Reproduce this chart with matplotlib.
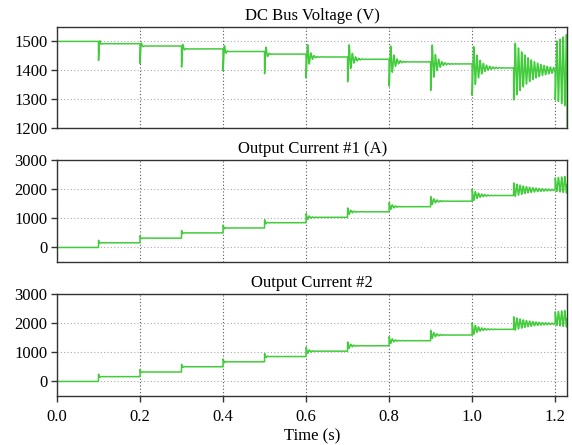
import numpy as np
import matplotlib
matplotlib.use('Agg')
import matplotlib.pyplot as plt

plt.rcParams['font.family'] = ['Liberation Serif', 'DejaVu Serif']

# Data
# load steps every 0.1 s, simulation ends at ~1.229 s
step_times = [0.0, 0.1, 0.2, 0.3, 0.4, 0.5, 0.6, 0.7, 0.8, 0.9, 1.0, 1.1, 1.2]
t_end = 1.229
ring_freq = 130.0  # Hz, ringing frequency of the transients

# DC bus voltage: settled level after each step, first swing size, decay time
vbus_levels = [1500, 1492, 1484, 1474, 1465, 1456, 1446, 1438, 1429, 1422, 1408, 1400, 1398]
vbus_swing = [0, 58, 60, 63, 66, 68, 72, 78, 84, 92, 95, 103, 100]
# negative decay -> growing oscillation (unstable after 1.2 s)
decay_tau = [1, 0.002, 0.002, 0.0025, 0.003, 0.0035, 0.007, 0.0085, 0.009, 0.011, 0.015, 0.04, -0.12]
vbus_final = 1205

# Output currents (#1 and #2 look the same)
cur1_levels = [0, 160, 320, 500, 670, 850, 1035, 1225, 1400, 1590, 1785, 1975, 2160]
cur1_swing = [0, 85, 85, 80, 90, 100, 125, 130, 140, 160, 220, 240, 230]
cur2_levels = [0, 165, 325, 505, 675, 855, 1040, 1225, 1400, 1595, 1790, 1980, 2160]
cur2_swing = [0, 85, 85, 80, 90, 100, 125, 130, 140, 160, 220, 240, 230]

titles = ['DC Bus Voltage (V)', 'Output Current #1 (A)', 'Output Current #2']
x_ticks = [0.0, 0.2, 0.4, 0.6, 0.8, 1.0, 1.2]
line_color = '#42cc3c'


def waveform(t, levels, swing, sign):
    y = np.zeros_like(t)
    for k, tk in enumerate(step_times):
        t_next = step_times[k + 1] if k + 1 < len(step_times) else t_end + 1
        m = (t >= tk) & (t < t_next)
        dt = t[m] - tk
        ring = swing[k] * np.exp(-dt / decay_tau[k]) * np.cos(2 * np.pi * ring_freq * dt)
        y[m] = levels[k] + sign * ring
    return y


t = np.arange(0, t_end, 0.0002)
vbus = waveform(t, vbus_levels, vbus_swing, -1)
vbus[-1] = vbus_final
cur1 = waveform(t, cur1_levels, cur1_swing, 1)
cur2 = waveform(t, cur2_levels, cur2_swing, 1)

fig = plt.figure(figsize=(5.72, 4.45), dpi=100)
positions = [[0.0997, 0.7124, 0.892, 0.227],
             [0.0997, 0.4112, 0.892, 0.229],
             [0.0997, 0.1101, 0.892, 0.229]]
series = [vbus, cur1, cur2]
ylims = [(1200, 1550), (-500, 3000), (-500, 3000)]
yticks = [[1200, 1300, 1400, 1500], [0, 1000, 2000, 3000], [0, 1000, 2000, 3000]]

for i in range(3):
    ax = fig.add_axes(positions[i])
    ax.plot(t, series[i], color=line_color, lw=1.1)
    ax.set_xlim(0, t_end)
    ax.set_ylim(*ylims[i])
    ax.set_yticks(yticks[i])
    ax.set_xticks(x_ticks)
    ax.set_title(titles[i], fontsize=12, pad=5)
    ax.xaxis.grid(True, ls=(0, (1, 2)), color='#555555', lw=0.8)
    ax.yaxis.grid(True, ls=(0, (1, 2)), color='#aaaaaa', lw=0.8)
    for s in ax.spines.values():
        s.set_color('#333333')
        s.set_linewidth(1.0)
    ax.tick_params(axis='both', direction='out', length=4, width=1, color='#333333', labelsize=12, pad=3)
    if i < 2:
        ax.tick_params(axis='x', length=0, labelbottom=False)
    else:
        ax.tick_params(axis='x', pad=5)
        ax.set_xticklabels(['%.1f' % v for v in x_ticks])
        ax.set_xlabel('Time (s)', fontsize=12, labelpad=3)

fig.savefig('out.png', dpi=100)
